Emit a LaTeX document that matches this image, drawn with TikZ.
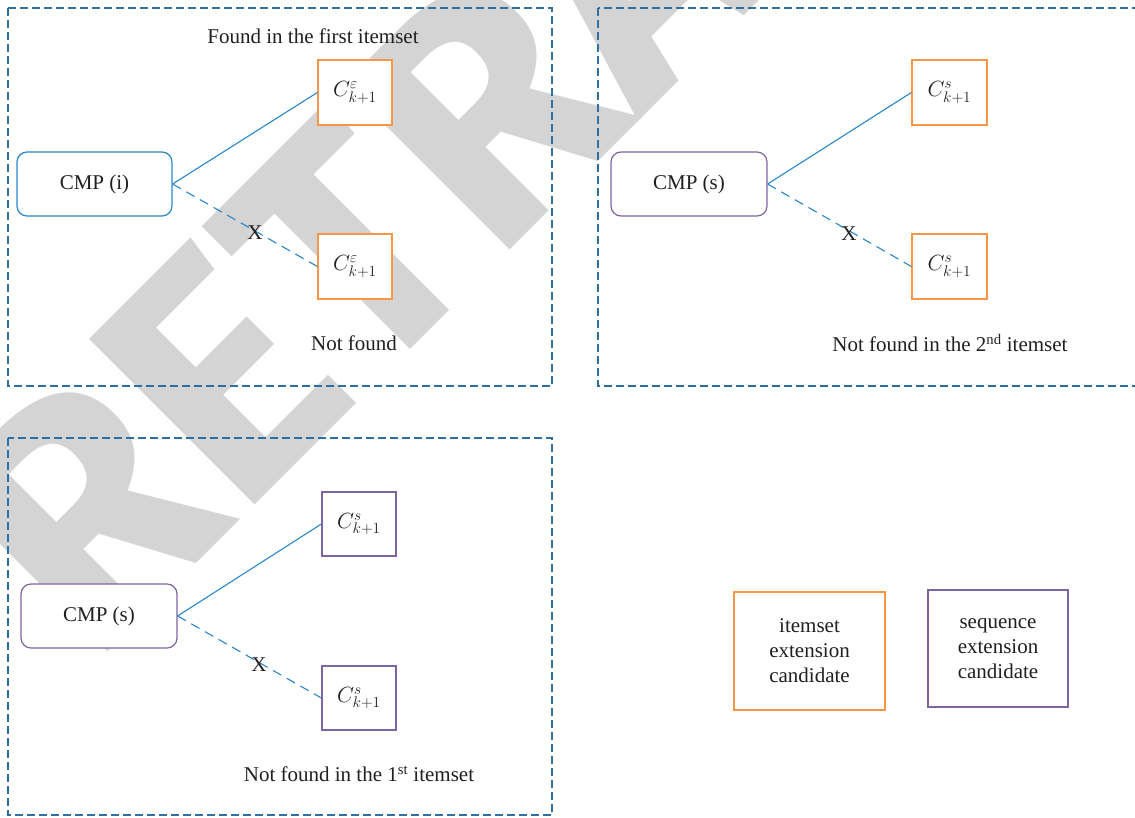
\RequirePackage{fix-cm}
\documentclass[tikz,border=0pt]{standalone}
\usepackage{fontspec}
\setmainfont{Liberation Serif}
\newfontfamily\markfont{Fira Sans}
\definecolor{linkblue}{RGB}{40,135,205}
\definecolor{panelblue}{RGB}{46,110,160}
\definecolor{candorange}{RGB}{247,150,70}
\definecolor{seqpurple}{RGB}{128,100,162}
\definecolor{inkgray}{RGB}{35,31,32}
\definecolor{markgray}{RGB}{212,212,212}
\begin{document}
\begin{tikzpicture}[x=1pt,y=-1pt,
  txt/.style={font=\fontsize{21}{25}\selectfont, text=inkgray, inner sep=0pt},
  cmpbox/.style={draw, rounded corners=10pt, fill=white, line width=1.2pt,
    minimum width=155pt, minimum height=64pt, txt},
  candbox/.style={draw, fill=white, line width=1.3pt,
    minimum width=74pt, minimum height=65pt, txt, font=\fontsize{22}{26}\selectfont},
  legendbox/.style={draw, fill=white, line width=1.3pt, align=center, txt},
  panel/.style={draw=panelblue, line width=1.1pt, dash pattern=on 8pt off 4pt},
  solidlink/.style={draw=linkblue, line width=1.1pt},
  cutlink/.style={draw=linkblue, line width=1.1pt, dash pattern=on 9.5pt off 6.2pt},
]
\useasboundingbox (0,0) rectangle (1135,817);
\fill[white] (0,0) rectangle (1135,817);

% background stamp
\node[inner sep=0pt, anchor=base west, rotate=45, text=markgray,
  font=\markfont\bfseries\fontsize{338}{338}\selectfont] (stamp) at (92,668) {RETRACTED};

% panel frames
\draw[panel] (8,8) rectangle (552,386);
\draw[panel] (598,8) rectangle (1145,386);
\draw[panel] (8,438) rectangle (552,815);

% panel 1: itemset extension found in the first itemset
\node[cmpbox, draw=linkblue] (cmpi) at (94.5,184) {CMP (i)};
\node[candbox, draw=candorange] (ia) at (355,92.5) {$C^{\varepsilon}_{k+1}$};
\node[candbox, draw=candorange] (ib) at (355,266.5) {$C^{\varepsilon}_{k+1}$};
\draw[solidlink] (cmpi.east) -- (ia.west);
\draw[cutlink] (cmpi.east) -- (ib.west);
\node[txt] (xa) at (255,233) {X};
\node[txt] (founda) at (313,36) {Found in the first itemset};
\node[txt] (nfa) at (354,343) {Not found};

% panel 2: sequence extension, second itemset
\node[cmpbox, draw=seqpurple, minimum width=156pt] (cmps) at (689,184) {CMP (s)};
\node[candbox, draw=candorange, minimum width=75pt] (sa) at (949.5,92.5) {$C^{s}_{k+1}$};
\node[candbox, draw=candorange, minimum width=75pt] (sb) at (949.5,266.5) {$C^{s}_{k+1}$};
\draw[solidlink] (cmps.east) -- (sa.west);
\draw[cutlink] (cmps.east) -- (sb.west);
\node[txt] (xb) at (849,234) {X};
\node[txt] (nfb) at (950,343) {Not found in the 2\textsuperscript{nd} itemset};

% panel 3: sequence extension, first itemset
\node[cmpbox, draw=seqpurple, minimum width=156pt] (cmpt) at (99,616) {CMP (s)};
\node[candbox, draw=seqpurple, minimum height=64pt] (ta) at (359,524) {$C^{s}_{k+1}$};
\node[candbox, draw=seqpurple, minimum height=64pt] (tb) at (359,698) {$C^{s}_{k+1}$};
\draw[solidlink] (cmpt.east) -- (ta.west);
\draw[cutlink] (cmpt.east) -- (tb.west);
\node[txt] (xc) at (259,665) {X};
\node[txt] (nfc) at (359,774) {Not found in the 1\textsuperscript{st} itemset};

% legend
\node[legendbox, draw=candorange, minimum width=151pt, minimum height=118pt] (legi) at (809.5,651)
  {itemset\\extension\\candidate};
\node[legendbox, draw=seqpurple, minimum width=140pt, minimum height=117pt] (legs) at (998,648.5)
  {sequence\\extension\\candidate};
\end{tikzpicture}
\end{document}
